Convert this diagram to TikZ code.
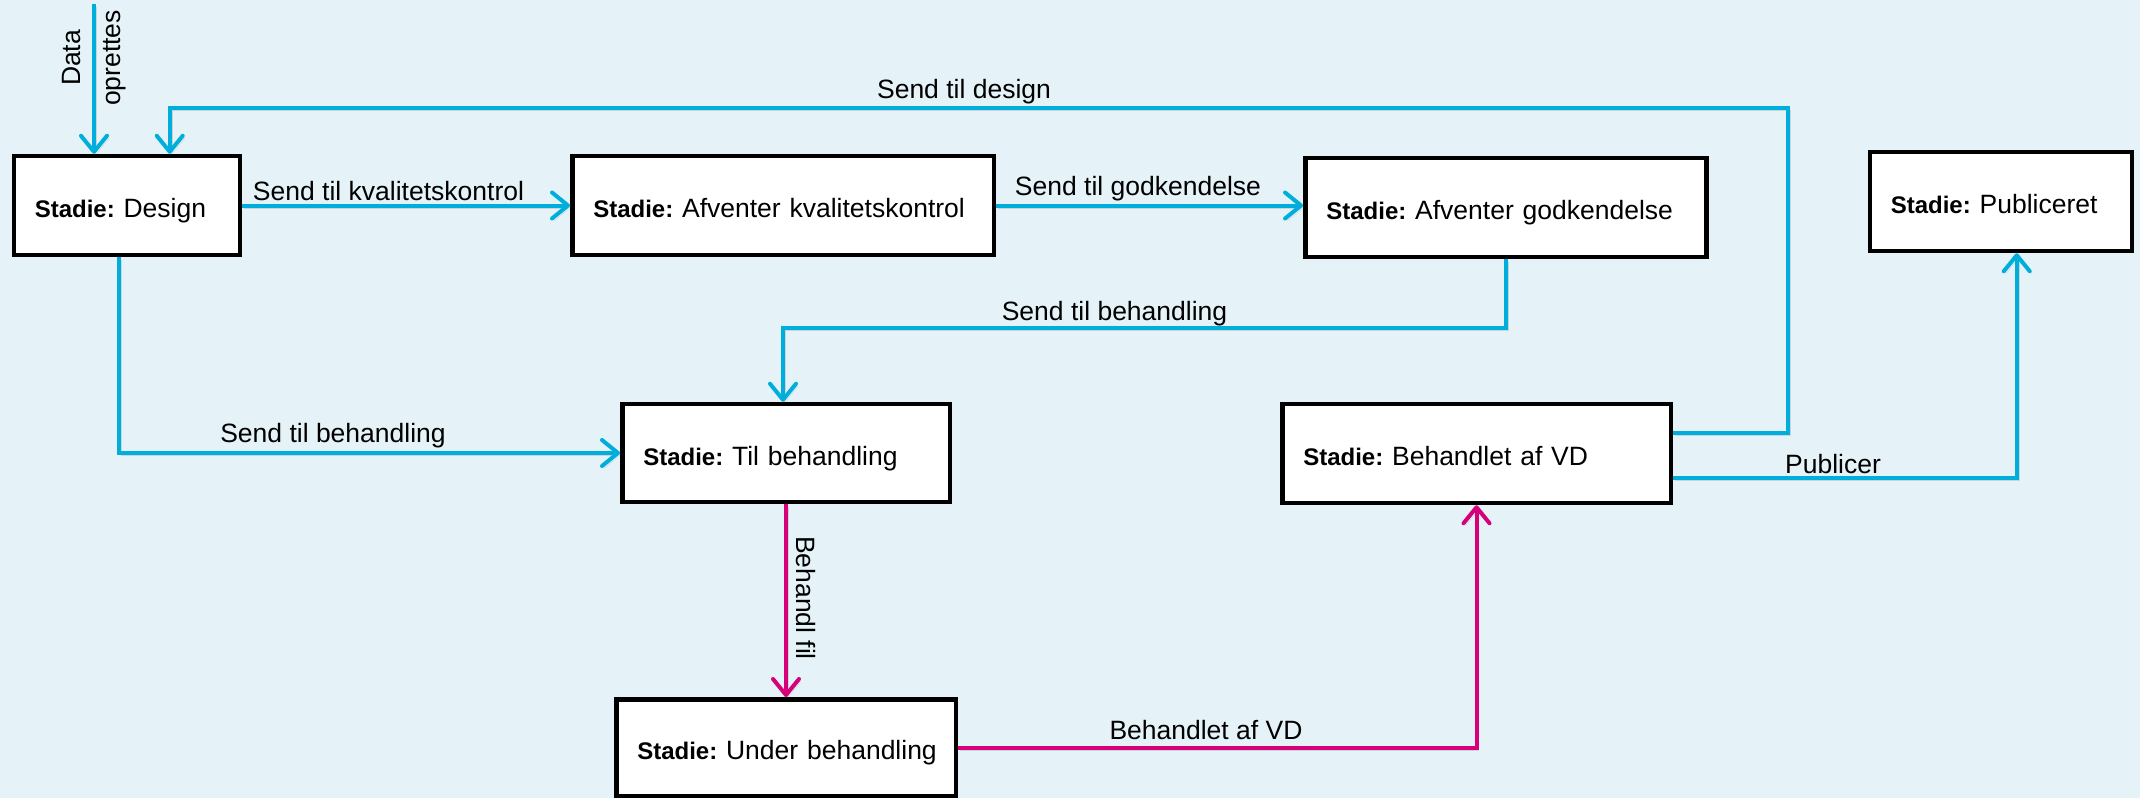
\documentclass[tikz,border=0pt]{standalone}
\usepackage{fontspec}
\setmainfont{Liberation Sans}
\usetikzlibrary{arrows.meta,calc}
\definecolor{bgc}{RGB}{229,243,248}
\definecolor{cy}{RGB}{0,174,219}
\definecolor{mg}{RGB}{214,0,122}
\newcommand{\stadielbl}{{\fontsize{24}{28}\selectfont\bfseries Stadie:}}
\tikzset{
  stage/.style={draw=black, line width=4.5pt, fill=white, rectangle, inner xsep=21pt, inner ysep=0pt,
    align=left, text height=24pt, text depth=0pt, font=\fontsize{26.5}{32}\selectfont\frenchspacing},
  flow/.style={draw=cy, line width=4pt, -{Straight Barb[length=16pt,width=26pt,round]},
    preaction={draw=black, draw opacity=0.12, transform canvas={shift={(2pt,-2.5pt)}}}},
  pflow/.style={flow, draw=mg},
  lbl/.style={font=\fontsize{26.5}{32}\selectfont, inner sep=0pt, anchor=base, text=black},
}
\begin{document}
\begin{tikzpicture}[x=1pt,y=-1pt]
\useasboundingbox (0,0) rectangle (2140,798);
\fill[bgc] (0,0) rectangle (2140,798);

% stages
\node[stage, minimum width=226pt, minimum height=99pt, text width=184pt] (design) at (126.75,205.5) {\mbox{\stadielbl\ Design}};
\node[stage, minimum width=421.5pt, minimum height=99pt, text width=379.5pt] (kval) at (783,205.5) {\mbox{\stadielbl\ Afventer kvalitetskontrol}};
\node[stage, minimum width=401pt, minimum height=99pt, text width=359pt] (godk) at (1505.8,207.5) {\mbox{\stadielbl\ Afventer godkendelse}};
\node[stage, minimum width=262pt, minimum height=99pt, text width=220pt] (publ) at (2000.75,201.5) {\mbox{\stadielbl\ Publiceret}};
\node[stage, minimum width=327.5pt, minimum height=98pt, text width=285.5pt] (til) at (786,453) {\mbox{\stadielbl\ Til behandling}};
\node[stage, minimum width=388.5pt, minimum height=99pt, text width=346.5pt] (behvd) at (1476.5,453.5) {\mbox{\stadielbl\ Behandlet af VD}};
\node[stage, minimum width=339.5pt, minimum height=96.5pt, text width=297.5pt] (under) at (786,747.5) {\mbox{\stadielbl\ Under behandling}};

% free start / bend points
\coordinate (dstart) at (94,4);
\coordinate (sdtop) at (1788,108);
\coordinate (sbbend) at (783,328);

% connectors
\draw[flow] (dstart) -- (dstart |- design.north);
\node[lbl, anchor=center, rotate=90, align=center, font=\fontsize{26.5}{40}\selectfont] (datalbl) at (94,58) {Data\\oprettes};

\draw[flow] ([yshift=20.5pt]behvd.east) -| (sdtop) -| ([xshift=43pt]design.north);
\node[lbl] (lsd) at (964,98) {Send til design};

\draw[flow] (design.east) -- (kval.west);
\node[lbl] (lskv) at (388.5,200) {Send til kvalitetskontrol};

\draw[flow] (kval.east) -- (godk.west |- kval.east);
\node[lbl] (lsg) at (1138,195) {Send til godkendelse};

\draw[flow] (godk.south) |- (sbbend) -- (sbbend |- til.north);
\node[lbl] (lsb1) at (1114.5,320) {Send til behandling};

\draw[flow] ([xshift=-8pt]design.south) |- (til.west);
\node[lbl] (lsb2) at (333,442) {Send til behandling};

\draw[pflow] (til.south) -- (under.north);
\node[lbl, anchor=center, rotate=-90] (lbf) at (806,598) {Behandl fil};

\draw[pflow] (under.east) -| (behvd.south);
\node[lbl] (lbvd) at (1206,739) {Behandlet af VD};

\draw[flow] ([yshift=-24.5pt]behvd.east) -| ([xshift=16pt]publ.south);
\node[lbl] (lpub) at (1833,473) {Publicer};
\end{tikzpicture}
\end{document}
